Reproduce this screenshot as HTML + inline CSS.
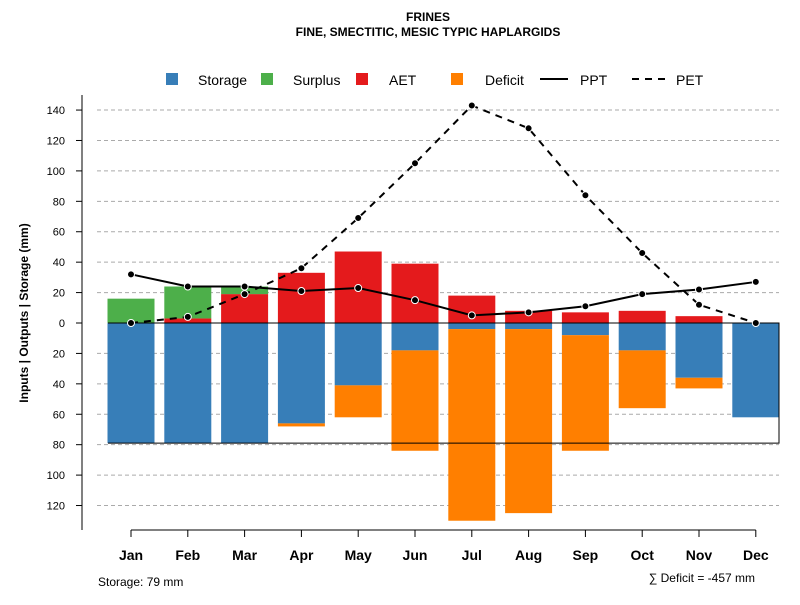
<!DOCTYPE html>
<html><head><meta charset="utf-8"><style>
body{margin:0;background:#fff;font-family:"Liberation Sans",sans-serif}
svg text{font-family:"Liberation Sans",sans-serif}
</style></head><body>
<svg id="c" width="800" height="600" xmlns="http://www.w3.org/2000/svg">
<text x="428" y="21" text-anchor="middle" font-size="12" font-weight="bold">FRINES</text>
<text x="428" y="36" text-anchor="middle" font-size="12" font-weight="bold">FINE, SMECTITIC, MESIC TYPIC HAPLARGIDS</text>
<g font-size="14">
<rect x="166" y="73" width="12" height="12" fill="#377EB8"/>
<text x="198" y="85">Storage</text>
<rect x="261" y="73" width="12" height="12" fill="#4DAF4A"/>
<text x="293" y="85">Surplus</text>
<rect x="356" y="73" width="12" height="12" fill="#E41A1C"/>
<text x="389" y="85">AET</text>
<rect x="451" y="73" width="12" height="12" fill="#FF7F00"/>
<text x="485" y="85">Deficit</text>
<line x1="540" y1="79" x2="568" y2="79" stroke="#000" stroke-width="2"/>
<text x="580" y="85">PPT</text>
<line x1="632" y1="79" x2="665" y2="79" stroke="#000" stroke-width="2" stroke-dasharray="7,6"/>
<text x="676" y="85">PET</text>
</g>
<text transform="translate(28,313) rotate(-90)" text-anchor="middle" font-size="12" font-weight="bold">Inputs | Outputs | Storage    (mm)</text>
<text x="98" y="586" font-size="12">Storage: 79 mm</text>
<text x="755" y="582" text-anchor="end" font-size="12">∑ Deficit = -457 mm</text>
<g id="grid"></g><g id="bars"></g><g id="frame"></g><g id="lines"></g><g id="axes"></g>
</svg>
<script>
const months=["Jan","Feb","Mar","Apr","May","Jun","Jul","Aug","Sep","Oct","Nov","Dec"];
const storage=[79,79,79,66,41,18,4,4,8,18,36,62];
const surplus=[16,21,5,0,0,0,0,0,0,0,0,0];
const aet=[0,3,19,33,47,39,18,8,7,8,4.5,0];
const deficit=[0,0,0,2,21,66,126,121,76,38,7,0];
const ppt=[32,24,24,21,23,15,5,7,11,19,22,27];
const pet=[0,4,19,36,69,105,143,128,84,46,12,0];
const yTicks=[140,120,100,80,60,40,20,0,-20,-40,-60,-80,-100,-120];
const capacity=79;
const NS="http://www.w3.org/2000/svg";
const y=v=>323-v*1.521;
const x=i=>131+i*56.8;
const bw=47;
function mk(p,t,a){const e=document.createElementNS(NS,t);for(const k in a)e.setAttribute(k,a[k]);document.getElementById(p).appendChild(e);return e;}
yTicks.forEach(v=>{
 if(v!==0){const g=mk('grid','line',{x1:97,x2:779,y1:y(v),y2:y(v),stroke:'#aaa','stroke-dasharray':'4,3'});
 
 }
 const t=mk('axes','line',{x1:76,x2:82,y1:y(v),y2:y(v),stroke:'#000'});
 
 
 const l=mk('axes','text',{x:65,y:y(v)+4,'text-anchor':'end','font-size':11});
 
 
 l.textContent=Math.abs(v);
});
const ya=mk('axes','line',{x1:82,x2:82,y1:95,y2:530,stroke:'#000'});


const xa=mk('axes','line',{x1:x(0),x2:x(11),y1:530,y2:530,stroke:'#000'});


months.forEach((m,i)=>{
 const cx=x(i),L=cx-bw/2;
 const t=mk('axes','line',{x1:cx,x2:cx,y1:530,y2:537,stroke:'#000'});
 
 
 const l=mk('axes','text',{x:cx,y:560,'text-anchor':'middle','font-size':14,'font-weight':'bold'});
 
 
 l.textContent=m;
 const s=mk('bars','rect',{x:L,y:y(0),width:bw,height:y(-storage[i])-y(0),fill:'#377EB8'});
 
 
 const d=mk('bars','rect',{x:L,y:y(-storage[i]),width:bw,height:y(-storage[i]-deficit[i])-y(-storage[i]),fill:'#FF7F00'});
 
 
 const a=mk('bars','rect',{x:L,y:y(aet[i]),width:bw,height:y(0)-y(aet[i]),fill:'#E41A1C'});
 
 
 const su=mk('bars','rect',{x:L,y:y(aet[i]+surplus[i]),width:bw,height:y(aet[i])-y(aet[i]+surplus[i]),fill:'#4DAF4A'});
 
 
});
const fr=mk('frame','path',{d:`M108 ${y(0)} H779 V${y(-capacity)} H108`,fill:'none',stroke:'#000'});


function series(vals,dash,name){
 const p=mk('lines','polyline',{points:vals.map((v,i)=>x(i)+','+y(v)).join(' '),fill:'none',stroke:'#000','stroke-width':2,'stroke-dasharray':dash});
 
 
 vals.forEach((v,i)=>{const c=mk('lines','circle',{cx:x(i),cy:y(v),r:3.5,fill:'#000',stroke:'#fff','stroke-width':1});
 
 });
}
series(ppt,'none','ppt');
series(pet,'7,6','pet');
</script>
</body></html>
